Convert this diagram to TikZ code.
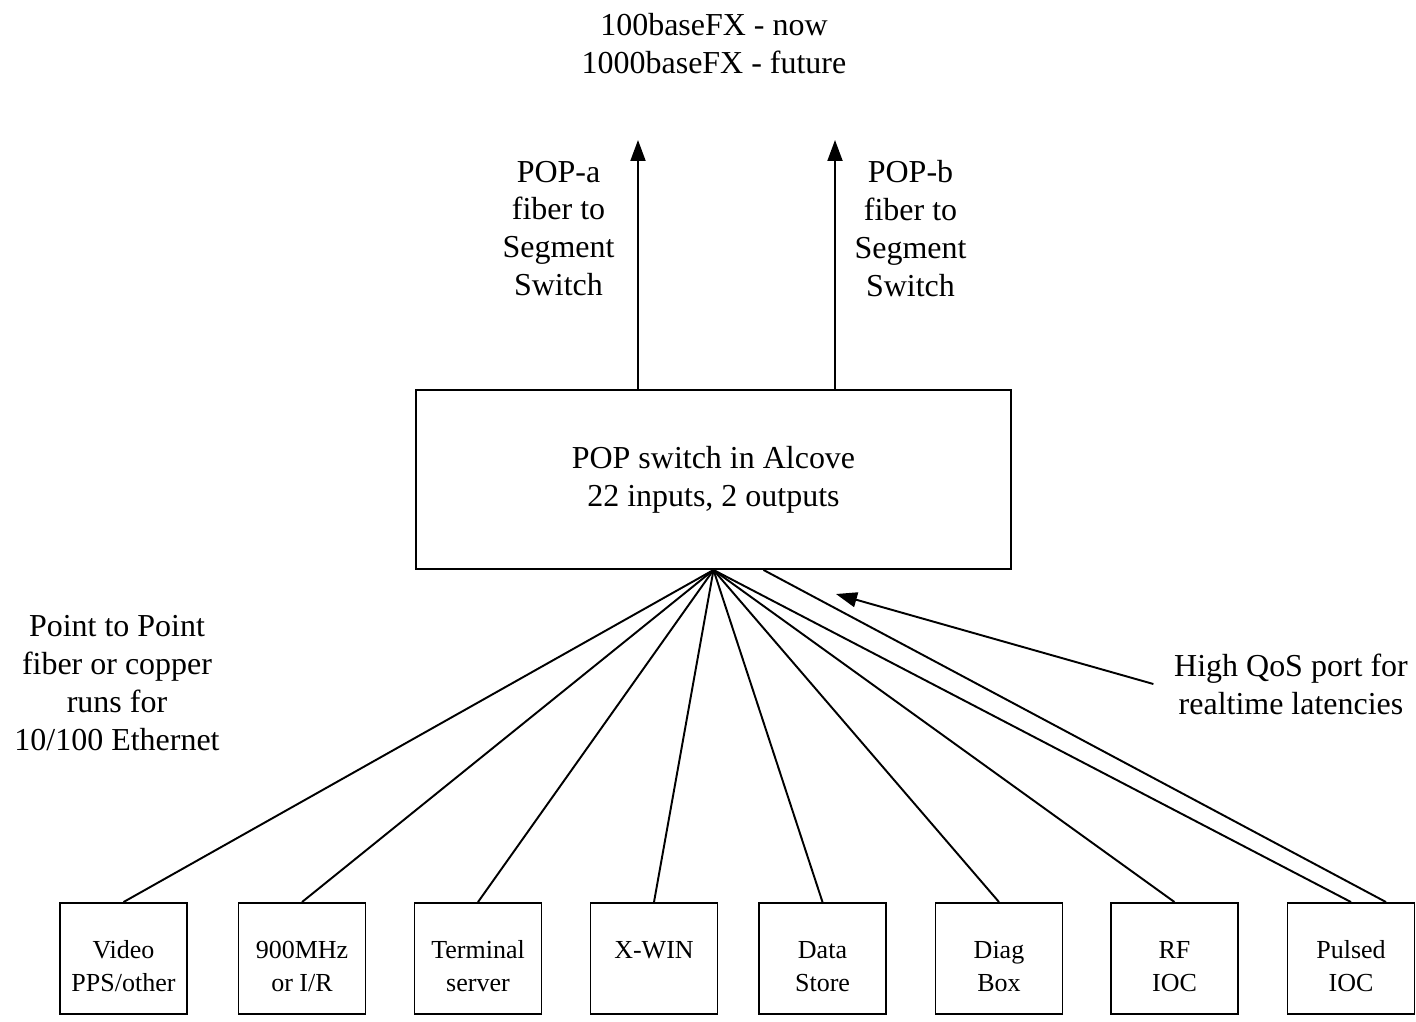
\documentclass[tikz,border=0pt]{standalone}
\usepackage{fontspec}
\setmainfont{Liberation Serif}
\usetikzlibrary{arrows.meta}

\tikzset{
    bigtxt/.style={align=center, font=\fontsize{18.2}{21.6}\selectfont},
    devbox/.style={draw, minimum width=2.54cm, minimum height=2.22cm, inner sep=0pt,
        align=center, font=\fontsize{14.8}{18.8}\selectfont},
}

\begin{document}
\begin{tikzpicture}[x=0.02cm, y=-0.02cm, line width=1.1pt,
    >={Triangle[length=0.42cm,width=0.3cm]}]
    \useasboundingbox (0,0) rectangle (1416,1021);

    % Lo switch nell'alcova
    \node[draw, minimum width=11.9cm, minimum height=3.58cm, bigtxt] (sw) at (713.5,479.5)
        {POP switch in Alcove\\22 inputs, 2 outputs};

    % Uscite verso il Segment Switch
    \node[bigtxt] (rate) at (714,43.5) {100baseFX - now\\1000baseFX - future};
    \coordinate (upa) at (638,140);
    \coordinate (upb) at (835,140);
    \draw[->] (sw.north -| upa) -- (upa);
    \draw[->] (sw.north -| upb) -- (upb);
    \node[bigtxt] (popa) at (558.5,228.5) {POP-a\\fiber to\\Segment\\Switch};
    \node[bigtxt] (popb) at (910.5,228.5) {POP-b\\fiber to\\Segment\\Switch};

    % Apparati collegati allo switch
    \foreach \n/\x/\t in {vid/123.5/{Video\\PPS/other}, rad/302/{900MHz\\or I/R},
        term/478/{Terminal\\server}, xwin/654/{X-WIN\\\mbox{}}, data/822.5/{Data\\Store},
        diag/999/{Diag\\Box}, rf/1174.5/{RF\\IOC}, pul/1351/{Pulsed\\IOC}} {
        \node[devbox] (\n) at (\x,958.5) {\rule{0pt}{1.25em}\t};
        \draw (sw.south) -- (\n.north); % Collegamento punto-punto
    }
    \draw ([xshift=1cm]sw.south) -- ([xshift=0.7cm]pul.north);

    % Note
    \node[bigtxt] (p2p) at (117,683) {Point to Point\\fiber or copper\\runs for\\10/100 Ethernet};
    \node[bigtxt] (qos) at (1291,684) {High QoS port for\\realtime latencies};
    \coordinate (qtip) at (836,594);
    \draw[->] ([xshift=-0.28cm]qos.west) -- (qtip);
\end{tikzpicture}
\end{document}
